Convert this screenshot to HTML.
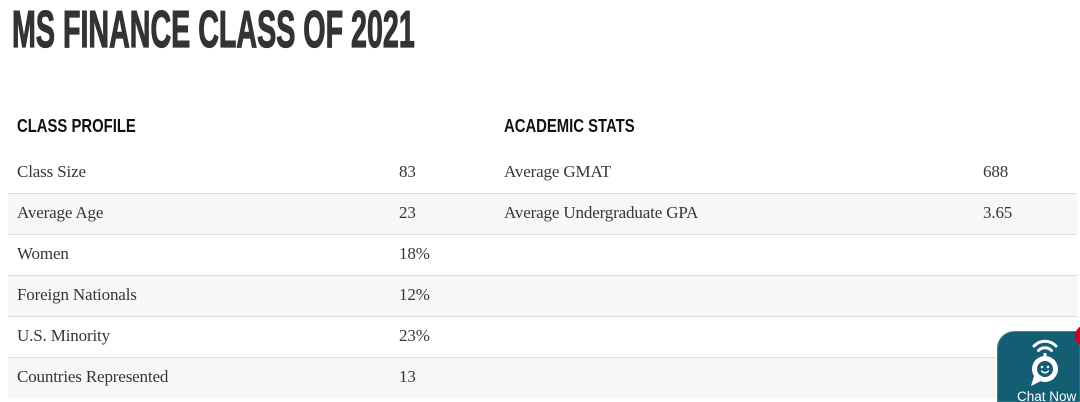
<!DOCTYPE html>
<html>
<head>
<meta charset="utf-8">
<style>
  html, body { margin:0; padding:0; width:1080px; height:402px; overflow:hidden; }
  body { background:#fff; position:relative; }
  .title {
    position:absolute; left:12px; top:4px;
    font-family:"Liberation Sans", sans-serif; font-weight:bold;
    font-size:52px; line-height:52px; color:#333;
    white-space:nowrap; transform:scaleX(0.551); transform-origin:0 0;
    -webkit-text-stroke:1.3px #333; letter-spacing:0px;
  }
  .head {
    position:absolute; top:117px;
    font-family:"Liberation Sans", sans-serif; font-weight:bold;
    font-size:18px; line-height:18px; color:#111; white-space:nowrap;
    transform:scaleX(0.825); transform-origin:0 0;
  }
  .row { position:absolute; left:8px; width:1069px; height:41px; }
  .row.shade { background:#f7f7f7; }
  .row.bt { border-top:1px solid #dedede; height:40px; }
  .t {
    position:absolute; top:11px;
    font-family:"Liberation Serif", serif; font-size:17px; line-height:17px;
    color:#363636; white-space:nowrap; letter-spacing:-0.15px;
  }
  .bt .t { top:10px; }
</style>
</head>
<body>
  <div class="title">MS FINANCE CLASS OF 2021</div>

  <div class="head" style="left:17px;">CLASS PROFILE</div>
  <div class="head" style="left:504px;">ACADEMIC STATS</div>

  <div class="row" style="top:152px;">
    <span class="t" style="left:9px;">Class Size</span>
    <span class="t" style="left:391px;">83</span>
    <span class="t" style="left:496px;">Average GMAT</span>
    <span class="t" style="left:975px;">688</span>
  </div>
  <div class="row shade bt" style="top:193px;">
    <span class="t" style="left:9px;">Average Age</span>
    <span class="t" style="left:391px;">23</span>
    <span class="t" style="left:496px;">Average Undergraduate GPA</span>
    <span class="t" style="left:975px;">3.65</span>
  </div>
  <div class="row bt" style="top:234px;">
    <span class="t" style="left:9px;">Women</span>
    <span class="t" style="left:391px;">18%</span>
  </div>
  <div class="row shade bt" style="top:275px;">
    <span class="t" style="left:9px;">Foreign Nationals</span>
    <span class="t" style="left:391px;">12%</span>
  </div>
  <div class="row bt" style="top:316px;">
    <span class="t" style="left:9px;">U.S. Minority</span>
    <span class="t" style="left:391px;">23%</span>
  </div>
  <div class="row shade bt" style="top:357px;">
    <span class="t" style="left:9px;">Countries Represented</span>
    <span class="t" style="left:391px;">13</span>
  </div>

  <svg width="1080" height="402" viewBox="0 0 1080 402" style="position:absolute;left:0;top:0;" xmlns="http://www.w3.org/2000/svg">
    <path d="M997.5 402 V349 A17 17 0 0 1 1014.5 331.5 H1080 V402 Z" fill="#135e72" stroke="#3f8296" stroke-width="1"/>
    <circle cx="1086" cy="336" r="11" fill="#d0021b"/>
    <path d="M1034 346 A15 15 0 0 1 1056 346" fill="none" stroke="#fff" stroke-width="3" stroke-linecap="round"/>
    <path d="M1038.5 350.5 A9 9 0 0 1 1051.5 350.5" fill="none" stroke="#fff" stroke-width="3" stroke-linecap="round"/>
    <rect x="1043.5" y="353" width="3" height="6" fill="#fff"/>
    <circle cx="1045" cy="369" r="13" fill="#fff"/>
    <path d="M1034 376 L1031 386 L1041 381 Z" fill="#fff"/>
    <circle cx="1045" cy="369" r="8" fill="#135e72"/>
    <circle cx="1042" cy="367" r="1.3" fill="#fff"/>
    <circle cx="1048" cy="367" r="1.3" fill="#fff"/>
    <path d="M1041.5 371 Q1045 374.5 1048.5 371" fill="none" stroke="#fff" stroke-width="1.4" stroke-linecap="round"/>
    <text x="1017" y="401" font-family="Liberation Sans, sans-serif" font-size="13.5" fill="#fff">Chat Now</text>
  </svg>
</body>
</html>
